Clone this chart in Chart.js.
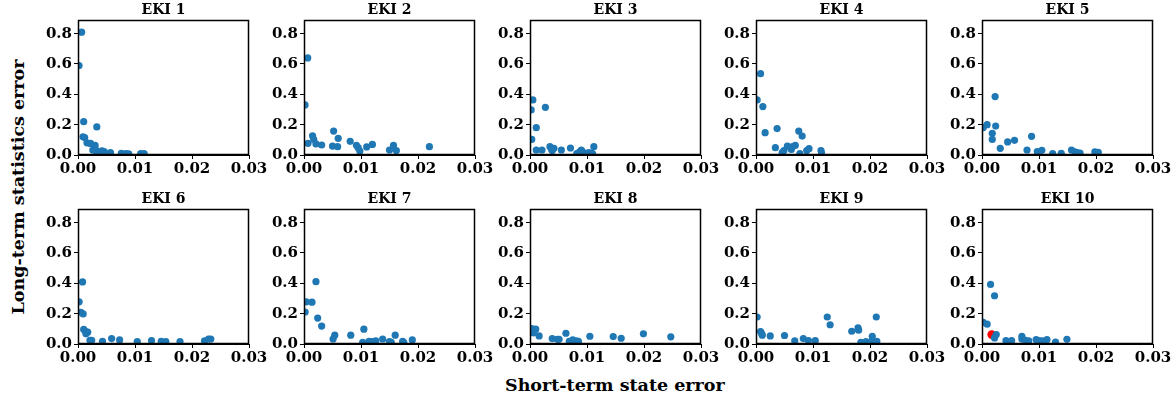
<!DOCTYPE html>
<html>
<head>
<meta charset="utf-8">
<script src="https://cdn.jsdelivr.net/npm/chart.js@4.4.0/dist/chart.umd.min.js"></script>
<style>
body { margin: 0; background: #fff; }
#wrap { position: relative; width: 1175px; height: 400px; overflow: hidden; }
#wrap canvas { position: absolute; }
.lab { position: absolute; font-family: "DejaVu Serif", serif; font-weight: bold; font-size: 17.5px; color: #000; white-space: nowrap; }
</style>
</head>
<body>
<div id="wrap">
  <div class="lab" id="xlab">Short-term state error</div>
  <div class="lab" id="ylab">Long-term statistics error</div>
</div>
<script>
// valeurs
const titres = ["EKI 1", "EKI 2", "EKI 3", "EKI 4", "EKI 5", "EKI 6", "EKI 7", "EKI 8", "EKI 9", "EKI 10"];
const xTicks = [0, 0.01, 0.02, 0.03];
const yTicks = [0, 0.2, 0.4, 0.6, 0.8];

const eki1X = [0.00064, 0.00018, 0.001, 0.00088, 0.00117, 0.00158, 0.0022, 0.003, 0.0033, 0.0026, 0.0034, 0.0038, 0.0042, 0.0046, 0.0057, 0.0076, 0.0084, 0.0089, 0.011, 0.0116, 0.003, 0.0033];
const eki1Y = [0.81, 0.59, 0.22, 0.12, 0.115, 0.08, 0.076, 0.063, 0.185, 0.033, 0.022, 0.022, 0.028, 0.022, 0.015, 0.011, 0.009, 0.007, 0.009, 0.009, 0.04, 0.006];

const eki2X = [0.00065, 0.00018, 0.0007, 0.0015, 0.0017, 0.0021, 0.0031, 0.0052, 0.006, 0.005, 0.0059, 0.0081, 0.0092, 0.0095, 0.0098, 0.011, 0.012, 0.015, 0.0157, 0.0162, 0.022];
const eki2Y = [0.64, 0.33, 0.077, 0.127, 0.103, 0.073, 0.066, 0.158, 0.11, 0.059, 0.055, 0.09, 0.064, 0.048, 0.026, 0.053, 0.07, 0.033, 0.064, 0.029, 0.055];

const eki3X = [0.0005, 0.0002, 0.0027, 0.0011, 0.0003, 0.0011, 0.0021, 0.0035, 0.0039, 0.0042, 0.0038, 0.0055, 0.0071, 0.0082, 0.0087, 0.009, 0.0092, 0.0096, 0.0103, 0.0108, 0.0112, 0.011];
const eki3Y = [0.363, 0.297, 0.314, 0.18, 0.103, 0.033, 0.033, 0.055, 0.029, 0.044, 0.037, 0.033, 0.046, 0.009, 0.02, 0.033, 0.022, 0.011, 0.015, 0.013, 0.055, 0.007];

const eki4X = [0.0008, 0.0002, 0.0012, 0.0016, 0.0037, 0.0034, 0.0046, 0.0049, 0.0055, 0.0062, 0.0064, 0.0069, 0.0075, 0.0081, 0.0077, 0.0089, 0.0093, 0.0114, 0.0115];
const eki4Y = [0.536, 0.363, 0.319, 0.147, 0.174, 0.048, 0.015, 0.029, 0.059, 0.037, 0.055, 0.064, 0.158, 0.125, 0.009, 0.029, 0.042, 0.029, 0.013];

const eki5X = [0.0023, 0.0002, 0.0009, 0.0018, 0.0018, 0.0024, 0.0032, 0.0045, 0.0057, 0.0087, 0.0079, 0.0097, 0.0105, 0.0124, 0.0139, 0.0157, 0.0163, 0.0167, 0.0172, 0.0198, 0.0204];
const eki5Y = [0.385, 0.18, 0.2, 0.143, 0.103, 0.191, 0.044, 0.086, 0.097, 0.123, 0.033, 0.022, 0.031, 0.009, 0.011, 0.033, 0.02, 0.015, 0.013, 0.02, 0.018];

const eki6X = [0.0002, 0.0008, 0.0005, 0.0009, 0.001, 0.0013, 0.0017, 0.0014, 0.0021, 0.0024, 0.0043, 0.0059, 0.0073, 0.0104, 0.0129, 0.0146, 0.0154, 0.0179, 0.0222, 0.0229, 0.0233];
const eki6Y = [0.278, 0.409, 0.209, 0.198, 0.096, 0.084, 0.078, 0.067, 0.024, 0.024, 0.018, 0.036, 0.027, 0.016, 0.022, 0.018, 0.016, 0.016, 0.02, 0.033, 0.033];

const eki7X = [0.0021, 0.0004, 0.0014, 0.0002, 0.0024, 0.0031, 0.0054, 0.0051, 0.0082, 0.0105, 0.0103, 0.0114, 0.012, 0.0126, 0.0138, 0.015, 0.016, 0.0173, 0.0175, 0.019, 0.0153];
const eki7Y = [0.411, 0.278, 0.276, 0.211, 0.171, 0.118, 0.058, 0.033, 0.058, 0.098, 0.011, 0.018, 0.016, 0.02, 0.033, 0.016, 0.058, 0.018, 0.011, 0.027, 0.011];

const eki8X = [0.0003, 0.0006, 0.001, 0.0006, 0.0016, 0.0039, 0.0048, 0.0051, 0.0063, 0.0069, 0.0075, 0.0081, 0.0085, 0.0105, 0.0146, 0.016, 0.0199, 0.0247];
const eki8Y = [0.102, 0.084, 0.098, 0.073, 0.053, 0.036, 0.031, 0.031, 0.071, 0.018, 0.027, 0.02, 0.018, 0.051, 0.049, 0.038, 0.067, 0.047];

const eki9X = [0.0002, 0.0008, 0.0011, 0.001, 0.0025, 0.005, 0.0068, 0.0083, 0.0092, 0.0104, 0.0125, 0.013, 0.0168, 0.0179, 0.018, 0.0184, 0.0193, 0.0204, 0.0204, 0.0211, 0.0212];
const eki9Y = [0.178, 0.082, 0.058, 0.069, 0.053, 0.056, 0.02, 0.036, 0.022, 0.022, 0.178, 0.127, 0.084, 0.107, 0.091, 0.011, 0.016, 0.051, 0.024, 0.178, 0.018];

const eki10X = [0.0015, 0.0022, 0.0002, 0.0009, 0.0025, 0.0022, 0.0042, 0.0052, 0.007, 0.007, 0.0076, 0.0082, 0.0095, 0.01, 0.0106, 0.0114, 0.0129, 0.0149];
const eki10Y = [0.393, 0.318, 0.142, 0.131, 0.062, 0.04, 0.022, 0.022, 0.051, 0.033, 0.024, 0.02, 0.029, 0.022, 0.02, 0.029, 0.013, 0.031];
// point retenu (rouge) dans EKI 10
const choixX = [0.0017];
const choixY = [0.062];

const seriesX = [eki1X, eki2X, eki3X, eki4X, eki5X, eki6X, eki7X, eki8X, eki9X, eki10X];
const seriesY = [eki1Y, eki2Y, eki3Y, eki4Y, eki5Y, eki6Y, eki7Y, eki8Y, eki9Y, eki10Y];

const gauches = [78, 304, 530, 756, 982];
const hauts = [20, 209];
const largeur = 171, hauteur = 135;
const margeG = 65, margeH = 22, margeD = 22, margeB = 28;
const police = '"DejaVu Serif", serif';

// cadre noir autour de la zone de tracé (comme les spines de matplotlib)
const cadre = {
    id: 'cadre',
    afterDraw(chart) {
        const a = chart.chartArea;
        const ctx = chart.ctx;
        ctx.save();
        ctx.strokeStyle = '#000';
        ctx.lineWidth = 1.5;
        ctx.beginPath();
        ctx.rect(Math.round(a.left) + 0.5, Math.round(a.top) + 0.5, Math.round(a.right - a.left) - 1, Math.round(a.bottom - a.top) - 1);
        ctx.stroke();
        ctx.restore();
    }
};

const wrap = document.getElementById('wrap');

titres.forEach(function (titre, i) {
    const col = i % 5, lig = Math.floor(i / 5);
    const canvas = document.createElement('canvas');
    const w = margeG + largeur + margeD, h = margeH + hauteur + margeB;
    canvas.width = w;
    canvas.height = h;
    canvas.style.width = w + 'px';
    canvas.style.height = h + 'px';
    canvas.style.left = (gauches[col] - margeG) + 'px';
    canvas.style.top = (hauts[lig] - margeH) + 'px';
    wrap.appendChild(canvas);

    const points = seriesX[i].map((x, k) => ({ x: x, y: seriesY[i][k] }));
    const datasets = [{
        data: points,
        backgroundColor: '#1f77b4',
        borderWidth: 0,
        pointRadius: 3.6,
        clip: 0
    }];
    if (i === 9) {
        datasets.push({
            data: choixX.map((x, k) => ({ x: x, y: choixY[k] })),
            backgroundColor: '#ff0000',
            borderWidth: 0,
            pointRadius: 4.3,
            clip: 0
        });
    }

    new Chart(canvas.getContext('2d'), {
        type: 'scatter',
        data: { datasets: datasets },
        options: {
            responsive: false,
            animation: false,
            events: [],
            layout: { padding: { left: 0, top: 0, right: margeD, bottom: 0 } },
            plugins: {
                legend: { display: false },
                tooltip: { enabled: false },
                title: {
                    display: true,
                    text: titre,
                    fullSize: false,
                    color: '#000',
                    font: { family: police, size: 14, weight: 'bold', lineHeight: 1 },
                    padding: { top: 5, bottom: 3 }
                }
            },
            scales: {
                x: {
                    type: 'linear',
                    min: 0,
                    max: 0.03,
                    afterFit(scale) { scale.height = margeB; },
                    afterBuildTicks(scale) { scale.ticks = xTicks.map(v => ({ value: v })); },
                    grid: { display: true, drawOnChartArea: false, drawTicks: true, tickLength: 4, color: '#000', tickWidth: 1 },
                    border: { display: true, color: '#000', width: 1 },
                    ticks: {
                        color: '#000',
                        padding: 1,
                        maxRotation: 0,
                        autoSkip: false,
                        font: { family: police, size: 15, weight: 'bold' },
                        callback: v => v.toFixed(2)
                    }
                },
                y: {
                    type: 'linear',
                    min: 0,
                    max: 0.89,
                    afterFit(scale) { scale.width = margeG; },
                    afterBuildTicks(scale) { scale.ticks = yTicks.map(v => ({ value: v })); },
                    grid: { display: true, drawOnChartArea: false, drawTicks: true, tickLength: 4, color: '#000', tickWidth: 1 },
                    border: { display: true, color: '#000', width: 1 },
                    ticks: {
                        color: '#000',
                        padding: 2,
                        autoSkip: false,
                        font: { family: police, size: 15, weight: 'bold' },
                        callback: v => v.toFixed(1)
                    }
                }
            }
        },
        plugins: [cadre]
    });
});

// libellés communs des axes
const xlab = document.getElementById('xlab');
xlab.style.left = (615 - xlab.offsetWidth / 2) + 'px';
xlab.style.top = (385 - xlab.offsetHeight / 2) + 'px';
const ylab = document.getElementById('ylab');
ylab.style.left = (18 - ylab.offsetWidth / 2) + 'px';
ylab.style.top = (187 - ylab.offsetHeight / 2) + 'px';
ylab.style.transform = 'rotate(-90deg)';
</script>
</body>
</html>
